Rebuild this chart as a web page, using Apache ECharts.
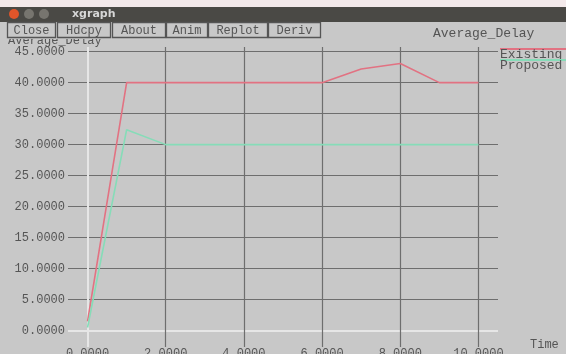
<!DOCTYPE html>
<html><head><meta charset="utf-8">
<script src="https://cdn.jsdelivr.net/npm/echarts@6/dist/echarts.min.js"></script>
<style>html,body{margin:0;padding:0;background:#c8c8c8;}#c{width:566px;height:354px;}</style>
</head><body><div id="c"></div>
<script>
const timeValues = [0,1,2,3,4,5,6,7,8,9,10];
const existing = [1.5,40,40,40,40,40,40,42.2,43.1,40,40];
const proposed = [0.5,32.4,30,30,30,30,30,30,30,30,30];
const xTicks = [0,2,4,6,8,10];
const yTicks = [0,5,10,15,20,25,30,35,40,45];
const buttons = ['Close','Hdcpy','About','Anim','Replot','Deriv'];
const seriesNames = ['Existing','Proposed'];

const RED = '#e27282', GREEN = '#86dcb8', GRID = '#6e6e6e', ZERO = '#e6e6e6', TXT = '#555555';
const MONO = '"Liberation Mono","DejaVu Sans Mono",monospace';

const chart = echarts.init(document.getElementById('c'), null, {renderer:'canvas'});

const gridLines = [];
yTicks.forEach(v => gridLines.push({yAxis:v, lineStyle:{type:'solid', color: v===0?ZERO:GRID, width: v===0?2:1.2}}));
xTicks.forEach(v => gridLines.push({xAxis:v, lineStyle:{type:'solid', color: v===0?ZERO:GRID, width: v===0?2:1.2}}));

const btnX = [7,57,112,166,208,268];
const btnW = [48,53,53,41,59,52];
const graphics = [
  {type:'rect', shape:{x:0,y:0,width:566,height:7}, style:{fill:'#f3e9ea'}, z:10},
  {type:'rect', shape:{x:0,y:7,width:566,height:15}, style:{fill:'#4a4945'}, z:10},
  {type:'circle', shape:{cx:14,cy:14,r:5}, style:{fill:'#e0552a'}, z:11},
  {type:'circle', shape:{cx:29,cy:14,r:5}, style:{fill:'#77756f'}, z:11},
  {type:'circle', shape:{cx:44,cy:14,r:5}, style:{fill:'#77756f'}, z:11},
  {type:'text', style:{text:'xgraph', x:72, y:14, fill:'#d6d6d6', font:'bold 11px "DejaVu Sans"', verticalAlign:'middle'}, z:11},
  {type:'text', style:{text:'Average_Delay', x:8, y:41, fill:TXT, font:'12px '+MONO, verticalAlign:'middle'}, z:5},
  {type:'rect', shape:{x:0,y:22,width:330,height:17}, style:{fill:'#c8c8c8'}, z:6},
  {type:'text', style:{text:'Average_Delay', x:433, y:34, fill:TXT, font:'13px '+MONO, verticalAlign:'middle'}, z:11},
  {type:'line', shape:{x1:500,y1:49,x2:566,y2:49}, style:{stroke:RED, lineWidth:2}, z:11},
  {type:'text', style:{text:seriesNames[0], x:500, y:55, fill:TXT, font:'13px '+MONO, verticalAlign:'middle'}, z:11},
  {type:'line', shape:{x1:500,y1:60,x2:566,y2:60}, style:{stroke:GREEN, lineWidth:2}, z:11},
  {type:'text', style:{text:seriesNames[1], x:500, y:66, fill:TXT, font:'13px '+MONO, verticalAlign:'middle'}, z:11},
  {type:'text', style:{text:'Time', x:530, y:345, fill:TXT, font:'12px '+MONO, verticalAlign:'middle'}, z:11}
];
buttons.forEach((b,i) => {
  graphics.push({type:'rect', shape:{x:btnX[i]+0.5,y:22.5,width:btnW[i],height:15}, style:{fill:'none', stroke:'#555', lineWidth:1.3}, z:12});
  graphics.push({type:'text', style:{text:b, x:btnX[i]+btnW[i]/2+0.5, y:30.5, fill:TXT, font:'12px '+MONO, align:'center', verticalAlign:'middle'}, z:12});
});

chart.setOption({
  animation:false,
  backgroundColor:'#c8c8c8',
  grid:{left:68, right:68, top:47, bottom:7, containLabel:false, outerBoundsMode:'none'},
  xAxis:{type:'value', min:-0.5, max:10.5,
    axisLine:{show:false}, axisTick:{show:false}, splitLine:{show:false},
    axisLabel:{customValues:xTicks, formatter:v=>v.toFixed(4), color:TXT, fontFamily:MONO, fontSize:12, margin:1}},
  yAxis:{type:'value', min:-2.65, max:45.75,
    axisLine:{show:false}, axisTick:{show:false}, splitLine:{show:false},
    axisLabel:{customValues:yTicks, formatter:v=>v.toFixed(4), color:TXT, fontFamily:MONO, fontSize:12, margin:3}},
  graphic: graphics,
  series:[
    {type:'line', data:[], z:1, silent:true,
      markLine:{z:1, silent:true, symbol:'none', label:{show:false}, animation:false, data:gridLines}},
    {name:seriesNames[0], type:'line', z:3, showSymbol:false, symbol:'none',
      data:timeValues.map((t,i)=>[t,existing[i]]), lineStyle:{color:RED, width:1.6}},
    {name:seriesNames[1], type:'line', z:3, showSymbol:false, symbol:'none',
      data:timeValues.map((t,i)=>[t,proposed[i]]), lineStyle:{color:GREEN, width:1.6}}
  ]
});
</script></body></html>
